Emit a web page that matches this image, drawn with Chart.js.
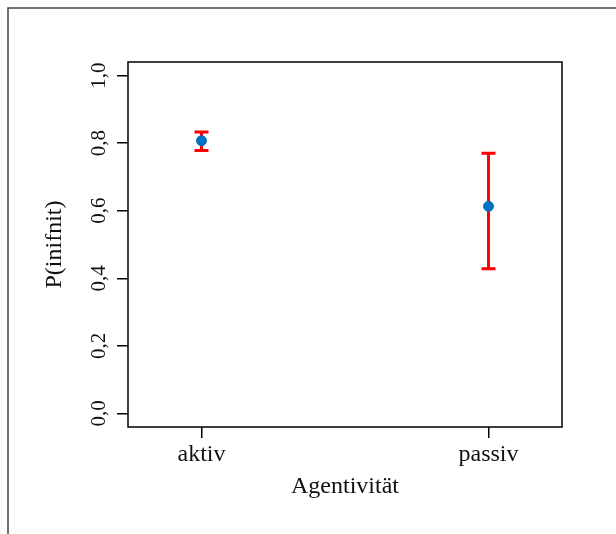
<!DOCTYPE html>
<html>
<head>
<meta charset="utf-8">
<script src="https://cdn.jsdelivr.net/npm/chart.js@4.4.1/dist/chart.umd.min.js"></script>
<style>
  html, body { margin: 0; padding: 0; background: #fff; }
  #wrap { width: 616px; height: 534px; position: relative; }
</style>
</head>
<body>
<div id="wrap"><canvas id="chart-agent"></canvas></div>
<script>
// Estimated proportions with confidence intervals per condition
const categories = ['aktiv', 'passiv'];
const estimates = [0.807, 0.613];
const lowerCI = [0.778, 0.428];
const upperCI = [0.833, 0.770];

const yTickValues = [0, 0.2, 0.4, 0.6, 0.8, 1.0];
const yTickLabels = ['0,0', '0,2', '0,4', '0,6', '0,8', '1,0'];

const serif = '"Liberation Serif", "Times New Roman", serif';

// whiskers go under the points
const errorBars = {
  id: 'errorBars',
  beforeDatasetsDraw(chart) {
    const { ctx, scales: { x, y } } = chart;
    ctx.save();
    ctx.strokeStyle = '#ff0000';
    ctx.lineWidth = 3;
    categories.forEach((_, i) => {
      const px = x.getPixelForValue(i + 1);
      const top = y.getPixelForValue(upperCI[i]);
      const bot = y.getPixelForValue(lowerCI[i]);
      ctx.beginPath();
      ctx.moveTo(px, top);
      ctx.lineTo(px, bot);
      ctx.moveTo(px - 7, top);
      ctx.lineTo(px + 7, top);
      ctx.moveTo(px - 7, bot);
      ctx.lineTo(px + 7, bot);
      ctx.stroke();
    });
    ctx.restore();
  },
};

// plot box plus the figure frame
const frame = {
  id: 'frame',
  beforeDraw(chart) {
    const { ctx } = chart;
    ctx.save();
    ctx.strokeStyle = '#444';
    ctx.lineWidth = 1.5;
    ctx.beginPath();
    ctx.moveTo(8, chart.height);
    ctx.lineTo(8, 8);
    ctx.lineTo(chart.width, 8);
    ctx.stroke();
    ctx.restore();
  },
  afterDraw(chart) {
    const { ctx, chartArea: a } = chart;
    ctx.save();
    ctx.strokeStyle = '#000';
    ctx.lineWidth = 1.5;
    ctx.strokeRect(a.left, a.top, a.right - a.left, a.bottom - a.top);
    ctx.restore();
  },
};

const ctx = document.getElementById('chart-agent').getContext('2d');
new Chart(ctx, {
  type: 'scatter',
  data: {
    datasets: [{
      data: estimates.map((v, i) => ({ x: i + 1, y: v })),
      backgroundColor: '#0070c0',
      borderColor: '#0070c0',
      pointRadius: 5,
      pointHoverRadius: 5,
    }],
  },
  options: {
    responsive: true,
    maintainAspectRatio: false,
    animation: false,
    events: [],
    layout: { padding: { top: 62, right: 54, left: 0, bottom: 0 } },
    plugins: { legend: { display: false }, tooltip: { enabled: false } },
    scales: {
      x: {
        type: 'linear',
        min: 0.744,
        max: 2.256,
        afterBuildTicks: (scale) => { scale.ticks = categories.map((_, i) => ({ value: i + 1 })); },
        afterFit: (scale) => { scale.height = 107; },
        ticks: {
          callback: (value, index) => categories[index],
          color: '#111',
          font: { family: serif, size: 24 },
          padding: 2,
          maxRotation: 0,
        },
        grid: { drawOnChartArea: false, tickLength: 11, color: '#000', lineWidth: 1.5 },
        border: { display: false },
        title: {
          display: true,
          text: 'Agentivität',
          color: '#111',
          font: { family: serif, size: 24 },
          padding: { top: 0, bottom: 33 },
        },
      },
      y: {
        min: -0.04,
        max: 1.04,
        afterBuildTicks: (scale) => { scale.ticks = yTickValues.map((v) => ({ value: v })); },
        afterFit: (scale) => { scale.width = 128; },
        ticks: {
          callback: (value, index) => yTickLabels[index],
          color: '#111',
          font: { family: serif, size: 21 },
          minRotation: 90,
          maxRotation: 90,
          crossAlign: 'center',
          padding: 4,
        },
        grid: { drawOnChartArea: false, tickLength: 11, color: '#000', lineWidth: 1.5 },
        border: { display: false },
        title: {
          display: true,
          text: 'P(inifnit)',
          color: '#111',
          font: { family: serif, size: 24 },
          padding: { top: 40, bottom: 0 },
        },
      },
    },
  },
  plugins: [errorBars, frame],
});
</script>
</body>
</html>
